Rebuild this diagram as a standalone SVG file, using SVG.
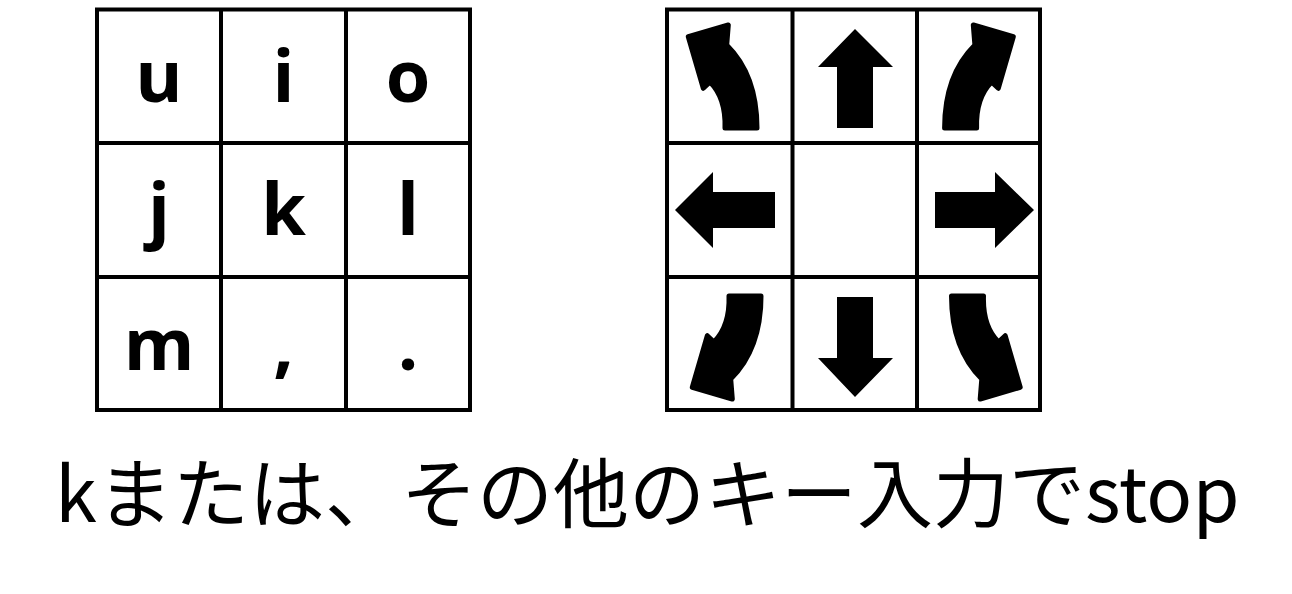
<svg xmlns="http://www.w3.org/2000/svg" xmlns:xlink="http://www.w3.org/1999/xlink" width="1292" height="594" viewBox="0 0 1292 594">
<style>
.grid{fill:none;stroke:#000;stroke-width:4}
.key{font-family:"Open Sans","Noto Sans",sans-serif;font-weight:700;font-size:72px;text-anchor:middle;fill:#000}
.arr{fill:#000}
.carr{fill:#000;stroke:#000;stroke-width:5;stroke-linejoin:round}
.cap{font-family:"Noto Sans CJK JP",sans-serif;font-size:76px;fill:#000}
</style>
<defs>
<path id="curve" class="carr" d="M688.3,36.7 L728.3,25 L726.7,45 Q757,75 757,128 L725,128 Q726,98 710,82 L703.3,88.3 Z"/>
</defs>
<rect width="1292" height="594" fill="#fff"/>
<g id="keys">
<g id="keys-grid" class="grid">
<rect x="97" y="9.5" width="373" height="400.5"/>
<line x1="221" y1="9.5" x2="221" y2="410"/>
<line x1="346" y1="9.5" x2="346" y2="410"/>
<line x1="97" y1="143" x2="470" y2="143"/>
<line x1="97" y1="277" x2="470" y2="277"/>
</g>
<g id="key-u"><text class="key" x="159" y="102">u</text></g>
<g id="key-i"><text class="key" x="283.5" y="102">i</text></g>
<g id="key-o"><text class="key" x="408" y="102">o</text></g>
<g id="key-j"><text class="key" x="159" y="235">j</text></g>
<g id="key-k"><text class="key" x="283.5" y="235">k</text></g>
<g id="key-l"><text class="key" x="408" y="235">l</text></g>
<g id="key-m"><text class="key" x="159" y="370">m</text></g>
<g id="key-comma"><text class="key" x="283.5" y="370">,</text></g>
<g id="key-period"><text class="key" x="408" y="370">.</text></g>
</g>
<g id="dirs">
<g id="dirs-grid" class="grid">
<rect x="667" y="9.5" width="373" height="400.5"/>
<line x1="792.5" y1="9.5" x2="792.5" y2="410"/>
<line x1="917" y1="9.5" x2="917" y2="410"/>
<line x1="667" y1="143" x2="1040" y2="143"/>
<line x1="667" y1="277" x2="1040" y2="277"/>
</g>
<g id="dir-ul"><use xlink:href="#curve" href="#curve"/></g>
<g id="dir-up"><polygon class="arr" points="855,29 893,67 873,67 873,128 837,128 837,67 818,67"/></g>
<g id="dir-ur"><use xlink:href="#curve" href="#curve" transform="translate(1701.6,0) scale(-1,1)"/></g>
<g id="dir-left"><polygon class="arr" points="675,210 713,172 713,192 775,192 775,228 713,228 713,248"/></g>
<g id="dir-right"><polygon class="arr" points="935,192 995,192 995,172 1034,210 995,248 995,228 935,228"/></g>
<g id="dir-dl"><use xlink:href="#curve" href="#curve" transform="translate(4,424) scale(1,-1)"/></g>
<g id="dir-down"><polygon class="arr" points="837,297 873,297 873,358 893,358 855,397 818,358 837,358"/></g>
<g id="dir-dr"><use xlink:href="#curve" href="#curve" transform="matrix(-1,0,0,-1,1708.5,424)"/></g>
</g>
<g id="connectors"/>
<g id="caption"><text class="cap" x="55" y="522">kまたは、その他のキー入力でstop</text></g>
</svg>
